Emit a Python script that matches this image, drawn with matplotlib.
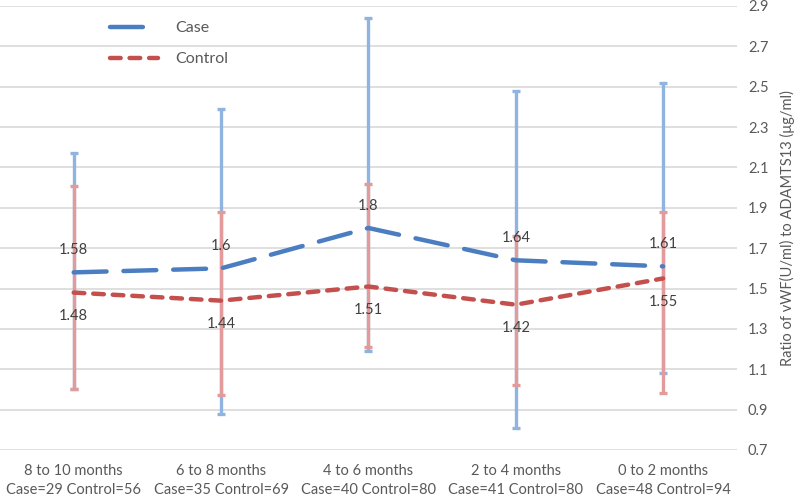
import numpy as np
import matplotlib.pyplot as plt

plt.rcParams['font.family'] = ['Lato', 'DejaVu Sans']

periods = ["8 to 10 months", "6 to 8 months", "4 to 6 months", "2 to 4 months", "0 to 2 months"]
n_case = [29, 35, 40, 41, 48]
n_control = [56, 69, 80, 80, 94]

case_mean = [1.58, 1.60, 1.80, 1.64, 1.61]
case_low = [1.00, 0.88, 1.19, 0.81, 1.08]
case_high = [2.17, 2.39, 2.84, 2.48, 2.52]

control_mean = [1.48, 1.44, 1.51, 1.42, 1.55]
control_low = [1.00, 0.97, 1.21, 1.02, 0.98]
control_high = [2.01, 1.88, 2.02, 1.76, 1.88]

x = np.arange(len(periods))
case_mean = np.array(case_mean)
control_mean = np.array(control_mean)

fig = plt.figure(figsize=(8, 4.98), dpi=100)
ax = fig.add_axes([0.0, 0.0964, 0.921, 0.8916])

txt = '#595959'

# error bars first (light colours)
ax.errorbar(x, case_mean, yerr=[case_mean - np.array(case_low), np.array(case_high) - case_mean],
            fmt='none', ecolor='#8FB4DF', elinewidth=2.4, capsize=2.6, capthick=2.4, zorder=2)
ax.errorbar(x, control_mean, yerr=[control_mean - np.array(control_low), np.array(control_high) - control_mean],
            fmt='none', ecolor='#E39A9A', elinewidth=2.4, capsize=2.6, capthick=2.4, zorder=3)

ax.plot(x, case_mean, color='#4A7EC1', lw=3.2, dashes=(7.4, 3.8), dash_capstyle='round',
        label='Case', zorder=4)
ax.plot(x, control_mean, color='#C3504D', lw=3.2, dashes=(2.4, 2.0), dash_capstyle='round',
        label='Control', zorder=5)

for i in range(len(x)):
    ax.annotate(f"{case_mean[i]:g}", (x[i], case_mean[i]), xytext=(0, 16), textcoords='offset points',
                ha='center', va='center', fontsize=10.5, color='#404040', zorder=6)
    ax.annotate(f"{control_mean[i]:g}", (x[i], control_mean[i]), xytext=(0, -17), textcoords='offset points',
                ha='center', va='center', fontsize=10.5, color='#404040', zorder=6)

ax.set_xlim(-0.5, 4.5)
ax.set_ylim(0.7, 2.9)
ax.set_yticks(np.arange(0.7, 2.95, 0.2))
ax.set_yticklabels([f"{v:.1f}" for v in np.arange(0.7, 2.95, 0.2)])
ax.yaxis.tick_right()
ax.yaxis.set_label_position('right')
ax.set_ylabel("Ratio of vWF(U/ml) to ADAMTS13 (μg/ml)", color=txt, fontsize=10.5, labelpad=8)
ax.set_xticks(x)
ax.set_xticklabels([f"{p}\nCase={a} Control={b}" for p, a, b in zip(periods, n_case, n_control)],
                   linespacing=1.45)
ax.tick_params(axis='both', length=0, colors=txt, labelsize=10.5)
ax.tick_params(axis='y', pad=8)
ax.tick_params(axis='x', pad=10)
ax.grid(axis='y', color='#D9D9D9', lw=1.2)
ax.set_axisbelow(True)
for s in ax.spines.values():
    s.set_visible(False)

ax.legend(loc='upper left', bbox_to_anchor=(0.13, 0.998), frameon=False, handlelength=3.0,
          fontsize=11.5, labelspacing=1.05, handletextpad=1.1, labelcolor=txt)

fig.savefig('out.png', dpi=100)
